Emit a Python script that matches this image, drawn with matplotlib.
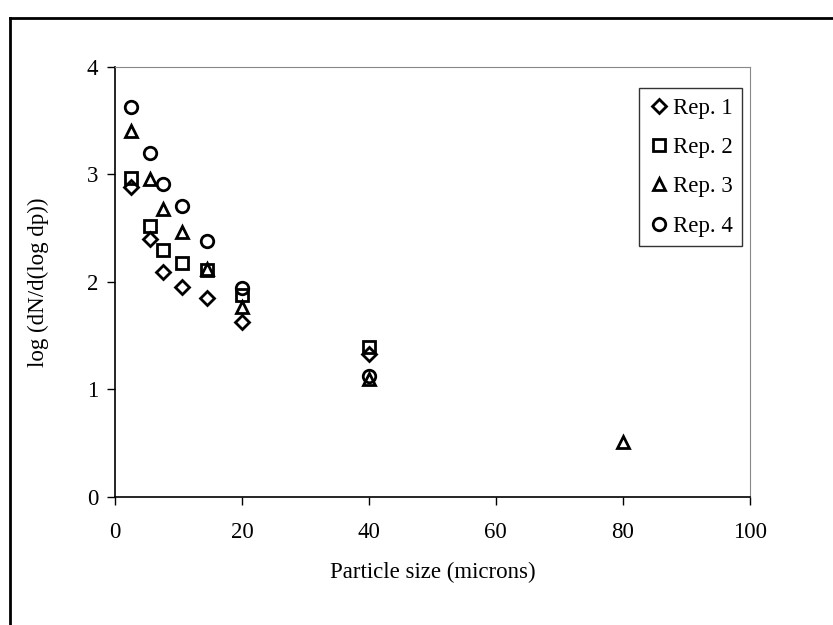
import matplotlib.pyplot as plt
from matplotlib.lines import Line2D

# particle size bins (microns)
sizes = [2.5, 5.5, 7.5, 10.5, 14.5, 20, 40]
rep1 = [2.88, 2.40, 2.09, 1.95, 1.85, 1.63, 1.33]
rep2 = [2.97, 2.52, 2.30, 2.18, 2.11, 1.88, 1.39]
rep3_x = [2.5, 5.5, 7.5, 10.5, 14.5, 20, 40, 80]
rep3 = [3.40, 2.96, 2.68, 2.46, 2.12, 1.77, 1.10, 0.51]
rep4 = [3.63, 3.20, 2.91, 2.71, 2.38, 1.94, 1.12]

plt.rcParams['font.family'] = ['Liberation Serif', 'DejaVu Serif']
fs = 16.5

fig = plt.figure(figsize=(8.33, 6.25), dpi=100)
ax = fig.add_axes([0.138, 0.205, 0.762, 0.688])

mk = dict(linestyle='none', markerfacecolor='none', markeredgecolor='black',
          markeredgewidth=2, markersize=9)
ax.plot(sizes, rep1, marker='D', label='Rep. 1', **{**mk, 'markersize': 7.5})
ax.plot(sizes, rep2, marker='s', label='Rep. 2', **mk)
ax.plot(rep3_x, rep3, marker='^', label='Rep. 3', **mk)
ax.plot(sizes, rep4, marker='o', label='Rep. 4', **mk)

ax.set_xlim(0, 100)
ax.set_ylim(0, 4)
ax.set_xticks([0, 20, 40, 60, 80, 100])
ax.set_yticks([0, 1, 2, 3, 4])
ax.tick_params(direction='out', length=6, width=1, labelsize=fs)
ax.tick_params(axis='x', pad=12)
ax.tick_params(axis='y', pad=6)
ax.spines['top'].set_color('#888888')
ax.spines['right'].set_color('#888888')
ax.spines['left'].set_linewidth(1.2)
ax.spines['bottom'].set_linewidth(1.2)

ax.set_xlabel('Particle size (microns)', fontsize=fs, labelpad=14)
ax.set_ylabel('log (dN/d(log dp))', fontsize=fs, labelpad=27)

leg = ax.legend(loc='upper right', bbox_to_anchor=(0.988, 0.95), fontsize=fs,
                frameon=True, fancybox=False, edgecolor='black',
                handletextpad=0.1, handlelength=1.0, borderpad=0.4,
                labelspacing=0.8, borderaxespad=0)
leg.get_frame().set_linewidth(1)

# outer chart border (scan shows left and top edges)
fig.add_artist(Line2D([0.012, 0.012], [0, 0.972], color='black', lw=2))
fig.add_artist(Line2D([0.012, 1.0], [0.972, 0.972], color='black', lw=2))

fig.savefig('out.png', dpi=100)
